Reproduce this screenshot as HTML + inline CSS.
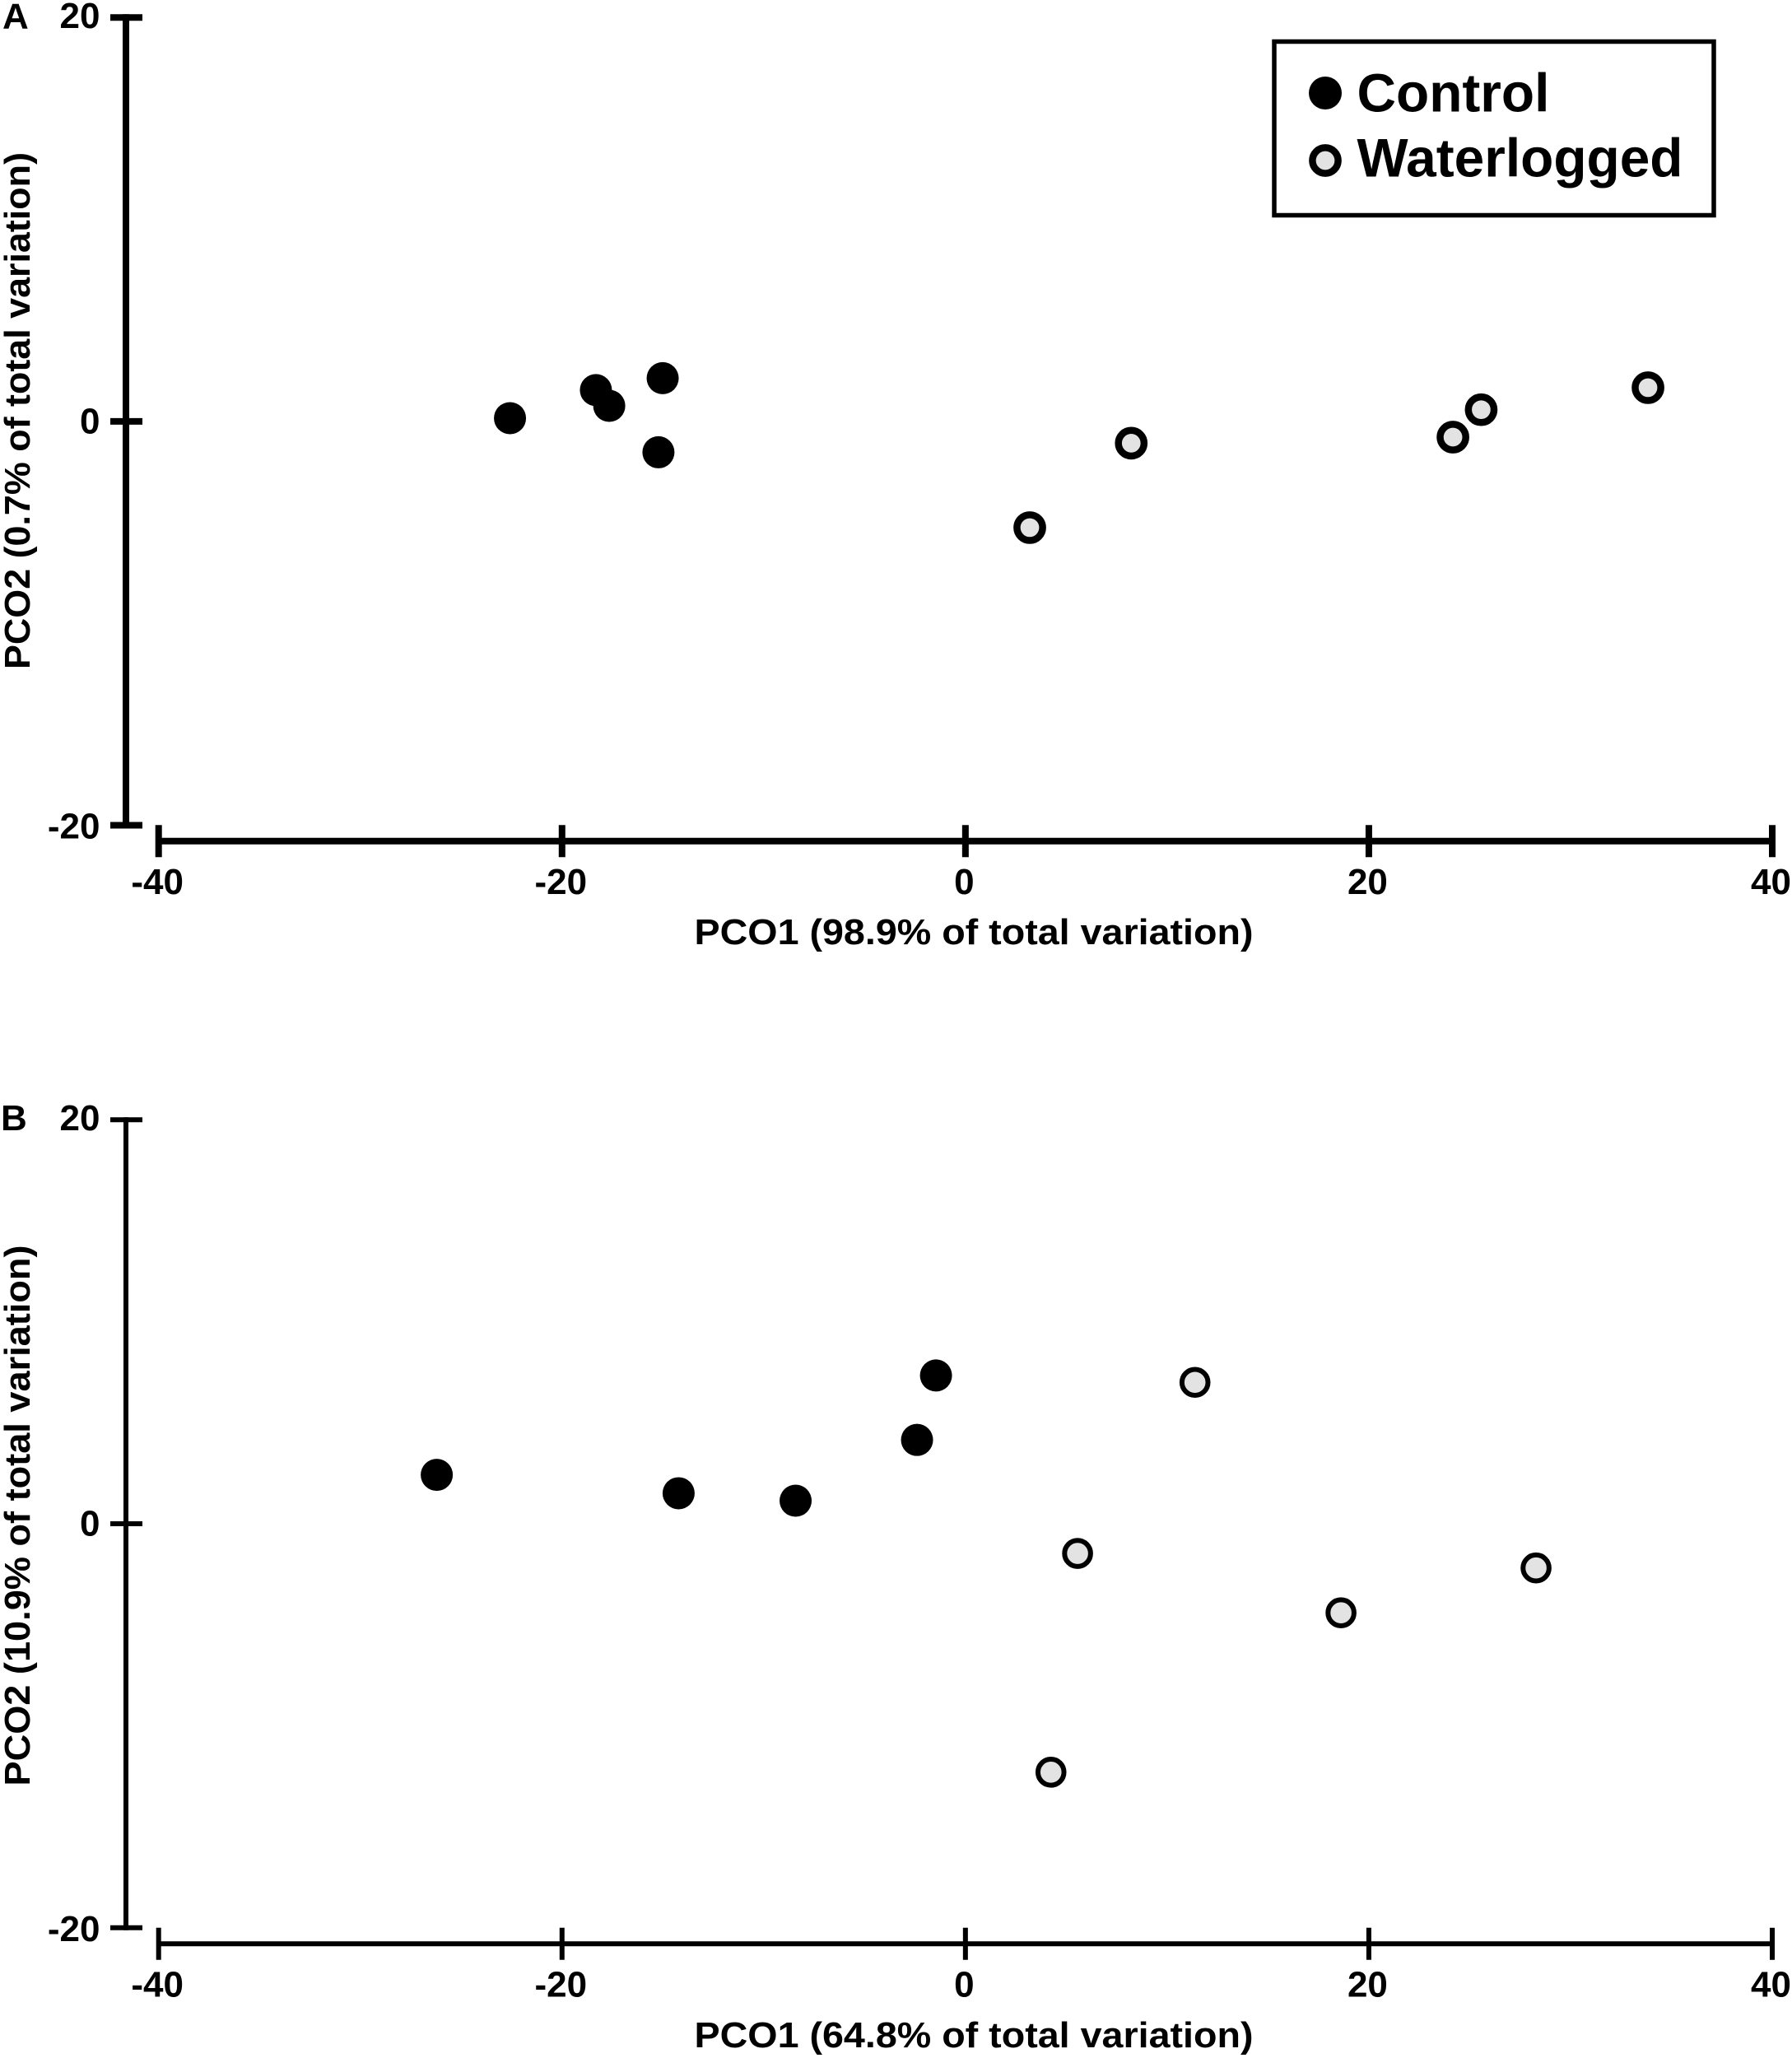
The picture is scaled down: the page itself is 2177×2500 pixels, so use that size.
<!DOCTYPE html>
<html lang="en">
<head>
<meta charset="utf-8">
<title>PCO ordination of control and waterlogged samples</title>
<style>
  html, body { margin: 0; padding: 0; background: #fff; }
  svg { display: block; }
  text { font-family: "Liberation Sans", Arial, sans-serif; font-weight: bold; fill: #000; }
</style>
</head>
<body>
<svg id="figure" xmlns="http://www.w3.org/2000/svg" width="2177" height="2500" viewBox="0 0 2177 2500">
  <rect x="0" y="0" width="2177" height="2500" fill="#fff"/>

  <g id="panel-a">
    <text x="3" y="34.5" font-size="44">A</text>
    <text x="1183" y="1147" font-size="44" text-anchor="middle" textLength="679" lengthAdjust="spacingAndGlyphs">PCO1 (98.9% of total variation)</text>
    <text transform="translate(36,499) rotate(-90)" x="0" y="0" font-size="44" text-anchor="middle" textLength="628" lengthAdjust="spacingAndGlyphs">PCO2 (0.7% of total variation)</text>
  </g>

  <g id="panel-b">
    <text x="1" y="1373" font-size="44">B</text>
    <text x="1183" y="2487" font-size="44" text-anchor="middle" textLength="679" lengthAdjust="spacingAndGlyphs">PCO1 (64.8% of total variation)</text>
    <text transform="translate(36,1841) rotate(-90)" x="0" y="0" font-size="44" text-anchor="middle" textLength="657" lengthAdjust="spacingAndGlyphs">PCO2 (10.9% of total variation)</text>
  </g>

  <g>
    <rect x="1548" y="50.5" width="534" height="211" fill="#fff" stroke="#000" stroke-width="5.5"/>
    <circle cx="1610" cy="113" r="20" fill="#000"/>
    <text x="1648.5" y="135.5" font-size="65.8">Control</text>
    <circle cx="1610" cy="195" r="15.6" fill="#e3e3e3" stroke="#000" stroke-width="8.5"/>
    <text x="1648.5" y="214.5" font-size="65.8">Waterlogged</text>
  </g>
</svg>

<script>
var xTickValues = [-40, -20, 0, 20, 40];
var yTickValues = [20, 0, -20];

var panelAControlX = [-22.58, -18.32, -17.66, -15.01, -15.22];
var panelAControlY = [0.16, 1.55, 0.77, 2.14, -1.53];
var panelAWaterloggedX = [3.19, 8.22, 24.17, 25.57, 33.84];
var panelAWaterloggedY = [-5.26, -1.08, -0.78, 0.58, 1.67];

var panelBControlX = [-26.21, -14.22, -8.42, -2.40, -1.46];
var panelBControlY = [2.42, 1.51, 1.14, 4.15, 7.34];
var panelBWaterloggedX = [5.56, 18.62, 28.29, 4.24, 11.38];
var panelBWaterloggedY = [-1.47, -4.41, -2.19, -12.30, 7.00];

var SVG_NS = 'http://www.w3.org/2000/svg';

function xScale(v) {
  return 192.7 + (v + 40) / 80 * (2153 - 192.7);
}

function makeYScale(top, bottom) {
  return function (v) {
    return top + (20 - v) / 40 * (bottom - top);
  };
}

function line(parent, x1, y1, x2, y2, width) {
  var el = document.createElementNS(SVG_NS, 'line');
  el.setAttribute('x1', x1);
  el.setAttribute('y1', y1);
  el.setAttribute('x2', x2);
  el.setAttribute('y2', y2);
  el.setAttribute('stroke', '#000');
  el.setAttribute('stroke-width', width);
  
  
  parent.appendChild(el);
  return el;
}

function label(parent, x, y, str, anchor) {
  var el = document.createElementNS(SVG_NS, 'text');
  el.setAttribute('x', x);
  el.setAttribute('y', y);
  el.setAttribute('font-size', '44');
  el.setAttribute('text-anchor', anchor);
  
  
  el.textContent = str;
  parent.appendChild(el);
  return el;
}

function drawAxes(parent, yScale, axisY, width) {
  var yAxis = line(parent, 153, yScale(20) - width / 2, 153, yScale(-20) + width / 2, width);
  
  var xAxis = line(parent, xScale(-40), axisY, xScale(40), axisY, width);
  
  yTickValues.forEach(function (v) {
    var t = line(parent, 134, yScale(v), 173, yScale(v), width);
    
    label(parent, 121.5, yScale(v) + 14.5 - v * 0.08, String(v), 'end');
  });
  xTickValues.forEach(function (v) {
    var t = line(parent, xScale(v), axisY - 19.5, xScale(v), axisY + 19.5, width);
    
    label(parent, xScale(v) - 1.5, axisY + 64.4, String(v), 'middle');
  });
}

function drawControl(parent, xs, ys, yScale) {
  xs.forEach(function (x, i) {
    var el = document.createElementNS(SVG_NS, 'circle');
    el.setAttribute('cx', xScale(x));
    el.setAttribute('cy', yScale(ys[i]));
    el.setAttribute('r', 19.5);
    el.setAttribute('fill', '#000');
    
    
    parent.appendChild(el);
  });
}

function drawWaterlogged(parent, xs, ys, yScale, ringRadius, ringWidth) {
  xs.forEach(function (x, i) {
    var el = document.createElementNS(SVG_NS, 'circle');
    el.setAttribute('cx', xScale(x));
    el.setAttribute('cy', yScale(ys[i]));
    el.setAttribute('r', ringRadius);
    el.setAttribute('fill', '#e3e3e3');
    el.setAttribute('stroke', '#000');
    el.setAttribute('stroke-width', ringWidth);
    
    
    parent.appendChild(el);
  });
}

var panelA = document.getElementById('panel-a');
var panelB = document.getElementById('panel-b');
var yScaleA = makeYScale(21.3, 1002.5);
var yScaleB = makeYScale(1360.3, 2341.7);

drawAxes(panelA, yScaleA, 1021.7, 8);
drawControl(panelA, panelAControlX, panelAControlY, yScaleA);
drawWaterlogged(panelA, panelAWaterloggedX, panelAWaterloggedY, yScaleA, 15.6, 8.5);

drawAxes(panelB, yScaleB, 2361.3, 6);
drawControl(panelB, panelBControlX, panelBControlY, yScaleB);
drawWaterlogged(panelB, panelBWaterloggedX, panelBWaterloggedY, yScaleB, 15.8, 6);
</script>
</body>
</html>
